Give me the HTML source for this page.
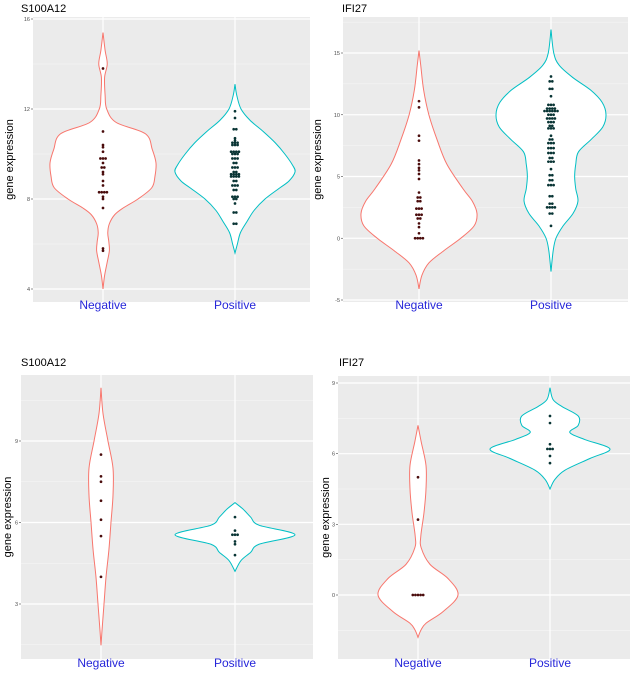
<!DOCTYPE html>
<html><head><meta charset="utf-8">
<style>
html,body{margin:0;padding:0;background:#fff;}
svg{display:block;font-family:"Liberation Sans",sans-serif;}
</style></head>
<body>
<svg id="fig" width="633" height="678" viewBox="0 0 633 678"></svg>
<script>
// ---- Data ----
const categories = ["Negative", "Positive"];
const titles = ["S100A12", "IFI27", "S100A12", "IFI27"];
const tickLabels1 = [4, 8, 12, 16];
const tickLabels2 = [-5, 0, 5, 10, 15];
const tickLabels3 = [3, 6, 9];
const tickLabels4 = [0, 3, 6, 9];

const p1Neg = [13.8,11.0,10.4,10.3,10.1,9.8,9.8,9.8,9.6,9.4,9.4,9.2,9.1,8.8,8.6,8.3,8.3,8.3,8.3,8.1,8.0,7.6,5.8,5.7];
const p1Pos = [11.9,11.6,11.1,11.1,10.7,10.6,10.5,10.5,10.5,10.4,10.4,10.4,10.1,10.1,10.1,10.1,10.0,10.0,10.0,9.8,9.8,9.8,9.6,9.6,9.4,9.4,9.4,9.2,9.2,9.1,9.1,9.1,9.1,9.0,9.0,9.0,9.0,8.8,8.8,8.6,8.6,8.6,8.4,8.4,8.1,8.1,8.1,8.0,8.0,7.8,7.4,7.4,6.9,6.9];
const p2Neg = [11.1,10.6,8.3,7.9,6.3,6.0,5.7,5.5,5.2,4.8,3.7,3.3,3.3,3.0,3.0,2.4,2.4,2.4,1.9,1.9,1.9,1.6,1.6,1.2,0.9,0.4,0,0,0,0];
const p2Pos = [13.1,12.7,12.7,12.1,12.1,11.5,10.8,10.8,10.8,10.5,10.5,10.5,10.5,10.3,10.3,10.3,10.3,10.3,10.3,10.0,10.0,10.0,9.7,9.7,9.7,9.7,9.4,9.4,9.4,9.1,9.1,8.9,8.9,8.9,8.3,8.0,8.0,7.7,7.7,7.7,7.3,7.3,7.3,6.9,6.9,6.9,6.5,6.5,6.2,6.2,6.2,5.6,5.1,5.1,4.7,4.7,4.3,4.3,4.3,3.4,3.4,2.8,2.8,2.5,2.5,2.5,2.5,2.0,2.0,1.0];
const p3Neg = [8.5,7.7,7.5,6.8,6.1,5.5,4.0];
const p3Pos = [6.2,5.7,5.55,5.55,5.55,5.3,5.2,4.8];
const p4Neg = [5.0,3.2,0,0,0,0,0];
const p4Pos = [7.6,7.3,6.4,6.2,6.2,6.2,5.9,5.6];

// violin density outlines: [value, relative width 0..1]
const v1NegY = [15.4,14.6,14.0,13.4,12.6,12.0,11.4,10.9,10.2,9.6,9.0,8.5,8.0,7.6,7.3,6.9,6.5,6.1,5.7,5.2,4.6,4.0];
const v1NegW = [0,0.04,0.08,0.03,0.04,0.07,0.25,0.80,0.93,1.0,0.98,0.92,0.66,0.38,0.22,0.12,0.09,0.11,0.12,0.08,0.03,0];
const v1PosY = [13.1,12.6,12.0,11.5,11.0,10.5,10.0,9.5,9.2,8.8,8.5,8.0,7.5,7.0,6.5,6.0,5.6];
const v1PosW = [0,0.03,0.1,0.25,0.47,0.67,0.83,0.96,1.0,0.9,0.75,0.5,0.32,0.2,0.09,0.04,0];
const v2NegY = [15.2,14,12,10,8,6,4,3,2,1,0,-1,-2,-3,-4.1];
const v2NegW = [0,0.03,0.08,0.17,0.31,0.48,0.76,0.92,1.0,0.95,0.72,0.43,0.17,0.05,0];
const v2PosY = [16.9,15,14,13,12,11,10,9,8,7,6,5,4,3,2,1,0,-1,-2.7];
const v2PosW = [0,0.05,0.15,0.4,0.72,0.93,1.0,0.94,0.73,0.5,0.45,0.43,0.45,0.49,0.4,0.22,0.09,0.04,0];
const v3NegY = [10.96,10,9,8,7,6,5,4,3,2,1.48];
const v3NegW = [0,0.17,0.58,1.0,1.0,0.83,0.66,0.42,0.25,0.08,0];
const v3PosY = [6.73,6.5,6.2,5.9,5.55,5.2,4.9,4.6,4.2];
const v3PosW = [0,0.13,0.26,0.4,1.0,0.4,0.26,0.1,0];
const v4NegY = [7.2,6.5,5.5,4.5,3.5,2.5,2.0,1.3,0.7,0,-0.7,-1.2,-1.5,-1.8];
const v4NegW = [0,0.08,0.2,0.2,0.15,0.07,0.08,0.3,0.75,1.0,0.63,0.2,0.07,0];
const v4PosY = [8.8,8.3,8.0,7.6,7.2,6.9,6.6,6.2,5.8,5.3,4.9,4.5];
const v4PosW = [0,0.05,0.2,0.47,0.47,0.33,0.58,1.0,0.67,0.25,0.08,0];

// ---- Layout ----
const svg = document.getElementById('fig');
const NS = 'http://www.w3.org/2000/svg';
function mk(tag, attrs, parent){const e=document.createElementNS(NS,tag);for(const k in attrs)e.setAttribute(k,attrs[k]);(parent||svg).appendChild(e);return e;}

const panels = [
 {title:titles[0], tx:21, ty:12, x0:33, x1:310, y0:17, y1:302, py0:289, py1:19, ticks:tickLabels1, cx:[103,235], ylx:9,
  neg:p1Neg,pos:p1Pos, vn:[v1NegY,v1NegW,53], vp:[v1PosY,v1PosW,60], lab:309},
 {title:titles[1], tx:342, ty:12, x0:343, x1:628, y0:17, y1:302, py0:300, py1:53, ticks:tickLabels2, cx:[419,551], ylx:317,
  neg:p2Neg,pos:p2Pos, vn:[v2NegY,v2NegW,58], vp:[v2PosY,v2PosW,55], lab:309},
 {title:titles[2], tx:21, ty:366, x0:21, x1:313, y0:375, y1:659, py0:604, py1:441, ticks:tickLabels3, cx:[101,235], ylx:7,
  neg:p3Neg,pos:p3Pos, vn:[v3NegY,v3NegW,12], vp:[v3PosY,v3PosW,60], lab:667},
 {title:titles[3], tx:339, ty:366, x0:338, x1:630, y0:376, y1:659, py0:595, py1:383, ticks:tickLabels4, cx:[418,550], ylx:325,
  neg:p4Neg,pos:p4Pos, vn:[v4NegY,v4NegW,40], vp:[v4PosY,v4PosW,60], lab:667}
];

function smoothPath(pts){
  let d='M'+pts[0][0].toFixed(2)+','+pts[0][1].toFixed(2);
  for(let i=0;i<pts.length-1;i++){
    const p0=pts[Math.max(i-1,0)],p1=pts[i],p2=pts[i+1],p3=pts[Math.min(i+2,pts.length-1)];
    const c1=[p1[0]+(p2[0]-p0[0])/6,p1[1]+(p2[1]-p0[1])/6];
    const c2=[p2[0]-(p3[0]-p1[0])/6,p2[1]-(p3[1]-p1[1])/6];
    d+=' C'+c1.map(v=>v.toFixed(2)).join(',')+' '+c2.map(v=>v.toFixed(2)).join(',')+' '+p2[0].toFixed(2)+','+p2[1].toFixed(2);
  }
  return d;
}

panels.forEach((P,pi)=>{
  const g = mk('g',{});
  
  
  const scale=(P.py0-P.py1)/(P.ticks[P.ticks.length-1]-P.ticks[0]);
  const yS=v=>P.py0-(v-P.ticks[0])*scale;
  const t=mk('text',{x:P.tx,y:P.ty,'font-size':11,fill:'#000'},g);
  t.textContent=P.title;
  
  
  const bg=mk('rect',{x:P.x0,y:P.y0,width:P.x1-P.x0,height:P.y1-P.y0,fill:'#ebebeb'},g);
  
  
  const step=P.ticks[1]-P.ticks[0];
  for(let v=P.ticks[0]-step/2; v<=P.ticks[P.ticks.length-1]+step; v+=step){
    const y=yS(v); if(y<P.y0||y>P.y1) continue;
    const l=mk('line',{x1:P.x0,x2:P.x1,y1:y,y2:y,stroke:'#f7f7f7','stroke-width':0.6},g);
    
    
  }
  P.ticks.forEach(v=>{
    const y=yS(v);
    const l=mk('line',{x1:P.x0,x2:P.x1,y1:y,y2:y,stroke:'#fff','stroke-width':1.2},g);
    
    
    const tk=mk('line',{x1:P.x0-2,x2:P.x0,y1:y,y2:y,stroke:'#444','stroke-width':0.6},g);
    
    
    const tl=mk('text',{x:P.x0-3,y:y+2,'font-size':5.5,fill:'#4d4d4d','text-anchor':'end'},g);
    tl.textContent=v;
    
    
  });
  P.cx.forEach((cx,ci)=>{
    const l=mk('line',{x1:cx,x2:cx,y1:P.y0,y2:P.y1,stroke:'#fff','stroke-width':1.2},g);
    
    
    const xt=mk('text',{x:cx,y:P.lab,'font-size':12,fill:'#2626d9','text-anchor':'middle'},g);
    xt.textContent=categories[ci];
    
    
  });
  const yl=mk('text',{x:0,y:0,'font-size':11,fill:'#000','text-anchor':'middle',transform:'translate('+(P.ylx+4)+','+((P.y0+P.y1)/2)+') rotate(-90)'},g);
  yl.textContent='gene expression';
  
  
  [[P.vn,'#f8766d',P.neg,'#4a0c0c'],[P.vp,'#00bfc4',P.pos,'#083434']].forEach((V,vi)=>{
    const cx=P.cx[vi]; const [ys,ws,mx]=V[0];
    const right=ys.map((v,i)=>[cx+ws[i]*mx,yS(v)]);
    const left=ys.map((v,i)=>[cx-ws[i]*mx,yS(v)]).reverse();
    const d=smoothPath(right)+' '+smoothPath(left).replace(/^M/,'L')+' Z';
    const path=mk('path',{d:d,fill:'#fff',stroke:V[1],'stroke-width':1},g);
    
    
    const counts={};
    V[2].forEach(v=>{counts[v]=(counts[v]||0)+1;});
    const seen={};
    V[2].forEach(v=>{
      const n=counts[v]; const k=(seen[v]=(seen[v]||0)+1)-1;
      const x=cx+(k-(n-1)/2)*2.6;
      const c=mk('circle',{cx:x,cy:yS(v),r:1.35,fill:V[3]},g);
      
      
    });
  });
});
</script>
</body></html>
